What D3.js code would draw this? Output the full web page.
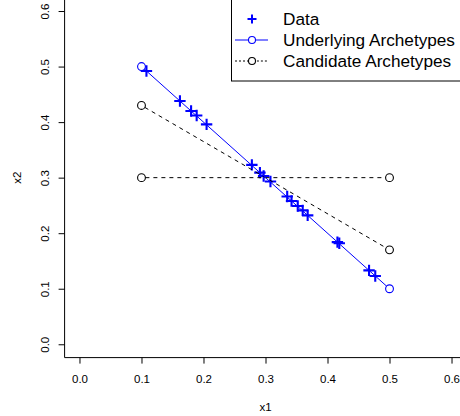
<!DOCTYPE html>
<html>
<head>
<meta charset="utf-8">
<script src="https://cdn.jsdelivr.net/npm/d3@7"></script>
<style>
  html, body { margin: 0; padding: 0; background: #fff; }
  svg { display: block; font-family: "Liberation Sans", Arial, Helvetica, sans-serif; }
</style>
</head>
<body>
<svg id="chart" width="460" height="416"></svg>
<script>
// Observed points
const dataX1 = [0.108, 0.162, 0.180, 0.189, 0.205, 0.278, 0.291, 0.297, 0.308,
                0.335, 0.342, 0.352, 0.360, 0.368, 0.416, 0.419, 0.467, 0.477];
const dataX2 = [0.492, 0.438, 0.420, 0.412, 0.396, 0.323, 0.309, 0.303, 0.293,
                0.266, 0.258, 0.249, 0.241, 0.232, 0.184, 0.182, 0.133, 0.123];

// Underlying archetypes (joined by a solid line)
const underX1 = [0.1, 0.5];
const underX2 = [0.5, 0.1];

// Candidate archetype pairs (each pair joined by a dashed line)
const candA_X1 = [0.1, 0.5];
const candA_X2 = [0.43, 0.17];
const candB_X1 = [0.1, 0.5];
const candB_X2 = [0.3, 0.3];

const xTicks = [0.0, 0.1, 0.2, 0.3, 0.4, 0.5, 0.6];
const yTicks = [0.0, 0.1, 0.2, 0.3, 0.4, 0.5, 0.6];

const legendLabels = ["Data", "Underlying Archetypes", "Candidate Archetypes"];

const svg = d3.select("#chart");
const blue = "#0000ff";

// limits [0, 0.6] with the usual 4% padding on each side
const x = d3.scaleLinear().domain([-0.024, 0.624]).range([64.6, 466.4]);
const y = d3.scaleLinear().domain([-0.024, 0.624]).range([357.6, -2.3]);

const fmt = d3.format(".1f");

// L-shaped frame
svg.append("path")
  .attr("d", `M${x.range()[0]},${y.range()[1]}V${y.range()[0]}H${x.range()[1]}`)
  .attr("fill", "none").attr("stroke", "#000").attr("stroke-width", 1);

// x axis
const gx = svg.append("g").attr("transform", `translate(0,${y.range()[0]})`)
  .call(d3.axisBottom(x).tickValues(xTicks).tickFormat(fmt).tickSize(6).tickSizeOuter(0));
gx.select(".domain").remove();
gx.selectAll("text").attr("dy", null).attr("y", 25.5).attr("font-size", 11.5)
  .attr("font-family", null).attr("fill", "#000");
gx.attr("font-family", null);

// y axis with rotated labels
const gy = svg.append("g").attr("transform", `translate(${x.range()[0]},0)`)
  .call(d3.axisLeft(y).tickValues(yTicks).tickFormat(fmt).tickSize(6).tickSizeOuter(0));
gy.select(".domain").remove();
gy.attr("font-family", null);
gy.selectAll(".tick text")
  .attr("x", null).attr("dy", null).attr("y", null)
  .attr("text-anchor", "middle")
  .attr("transform", "translate(-16,0) rotate(-90)")
  .attr("font-size", 11.5).attr("fill", "#000");

// axis titles
svg.append("text").attr("x", (x.range()[0] + x.range()[1]) / 2).attr("y", 411)
  .attr("text-anchor", "middle").attr("font-size", 11.5).text("x1");
svg.append("text")
  .attr("transform", `translate(20.5,${(y.range()[0] + y.range()[1]) / 2}) rotate(-90)`)
  .attr("text-anchor", "middle").attr("font-size", 11.5).text("x2");

const R = 3.9;
const plusPath = s => `M${-s},0H${s}M0,${-s}V${s}`;

// data points
const pts = dataX1.map((v, i) => [v, dataX2[i]]);
svg.append("g").selectAll("path").data(pts).join("path")
  .attr("transform", d => `translate(${x(d[0])},${y(d[1])})`)
  .attr("d", plusPath(5.7))
  .attr("fill", "none").attr("stroke", blue).attr("stroke-width", 2.1);

// segment that stops short of the point circles
function gappedSegment(g, xs, ys, stroke, dash) {
  const x0 = x(xs[0]), y0 = y(ys[0]), x1 = x(xs[1]), y1 = y(ys[1]);
  const len = Math.hypot(x1 - x0, y1 - y0);
  const ux = (x1 - x0) / len, uy = (y1 - y0) / len;
  g.append("line")
    .attr("x1", x0 + ux * R).attr("y1", y0 + uy * R)
    .attr("x2", x1 - ux * R).attr("y2", y1 - uy * R)
    .attr("stroke", stroke).attr("stroke-width", 1)
    .attr("stroke-dasharray", dash);
  g.selectAll(null).data(xs.map((v, i) => [v, ys[i]])).join("circle")
    .attr("cx", d => x(d[0])).attr("cy", d => y(d[1])).attr("r", R)
    .attr("fill", "none").attr("stroke", stroke).attr("stroke-width", 1.1);
}

const gl = svg.append("g");
gappedSegment(gl, candA_X1, candA_X2, "#000", "4,4");
gappedSegment(gl, candB_X1, candB_X2, "#000", "4,4");
gappedSegment(gl, underX1, underX2, blue, null);

// legend
const lg = svg.append("g");
lg.append("rect").attr("x", 231.5).attr("y", -5).attr("width", 240).attr("height", 86)
  .attr("fill", "#fff").attr("stroke", "#000").attr("stroke-width", 1);
const rowY = [19, 40, 61];
const symX = 252;
lg.append("path").attr("transform", `translate(${symX},${rowY[0]})`)
  .attr("d", plusPath(4.5)).attr("fill", "none").attr("stroke", blue).attr("stroke-width", 2);
lg.append("line").attr("x1", 235).attr("x2", symX - R).attr("y1", rowY[1]).attr("y2", rowY[1])
  .attr("stroke", blue);
lg.append("line").attr("x1", symX + R).attr("x2", 268).attr("y1", rowY[1]).attr("y2", rowY[1])
  .attr("stroke", blue);
lg.append("circle").attr("cx", symX).attr("cy", rowY[1]).attr("r", 3.5)
  .attr("fill", "none").attr("stroke", blue).attr("stroke-width", 1.1);
lg.append("line").attr("x1", 235).attr("x2", symX - R).attr("y1", rowY[2]).attr("y2", rowY[2])
  .attr("stroke", "#000").attr("stroke-dasharray", "2,2");
lg.append("line").attr("x1", symX + R + 1).attr("x2", 268).attr("y1", rowY[2]).attr("y2", rowY[2])
  .attr("stroke", "#000").attr("stroke-dasharray", "2,2");
lg.append("circle").attr("cx", symX).attr("cy", rowY[2]).attr("r", 3.5)
  .attr("fill", "none").attr("stroke", "#000").attr("stroke-width", 1.1);
lg.selectAll("text.lbl").data(legendLabels).join("text").attr("class", "lbl")
  .attr("x", 283).attr("y", (d, i) => rowY[i] + 6)
  .attr("font-size", 17.2).attr("fill", "#000").text(d => d);
</script>
</body>
</html>
